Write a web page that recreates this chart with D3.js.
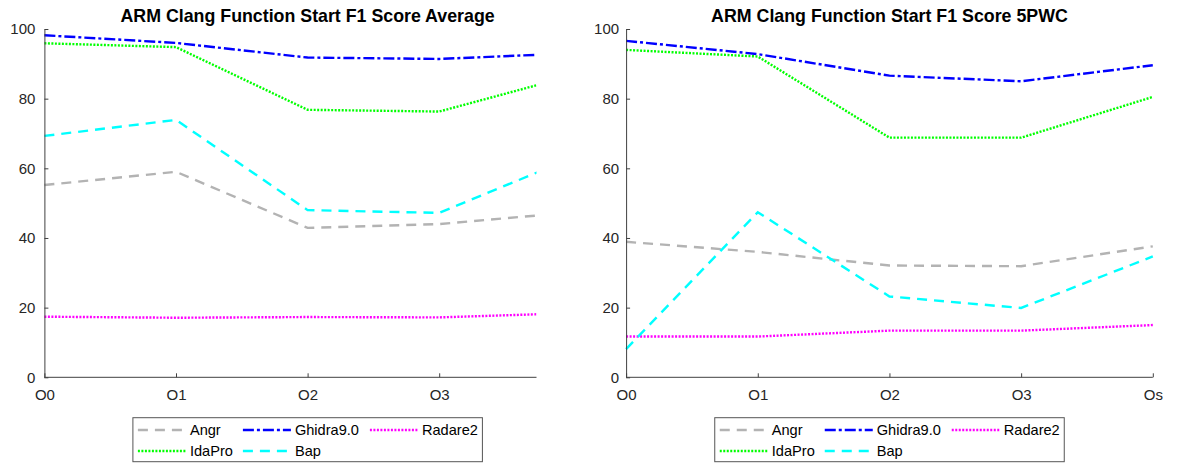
<!DOCTYPE html>
<html>
<head>
<meta charset="utf-8">
<script src="https://cdn.jsdelivr.net/npm/d3@7"></script>
<style>
body { margin: 0; background: #fff; }
svg { display: block; font-family: 'Liberation Sans', Arial, sans-serif; }
</style>
</head>
<body>
<svg width="1180" height="463"></svg>
<script>
// optimalisatie niveaus op de x-as
const levels = ['O0', 'O1', 'O2', 'O3', 'Os']
const yTicks = [0, 20, 40, 60, 80, 100]
const tools = ['Angr', 'Ghidra9.0', 'Radare2', 'IdaPro', 'Bap']

// F1 score average (Os valt buiten het linker plot, is geschat)
const avgAngr    = [55.2, 59.0, 42.9, 44.0, 47.3]
const avgGhidra  = [98.2, 96.0, 91.8, 91.4, 93.0]
const avgRadare2 = [17.4, 17.1, 17.3, 17.2, 18.4]
const avgIdaPro  = [95.9, 94.8, 76.8, 76.3, 86.5]
const avgBap     = [69.3, 73.9, 48.0, 47.2, 62.8]

// F1 score 5PWC
const pwcAngr    = [38.9, 36.0, 32.1, 31.9, 37.6]
const pwcGhidra  = [96.6, 92.8, 86.6, 85.0, 89.6]
const pwcRadare2 = [11.7, 11.7, 13.4, 13.4, 15.0]
const pwcIdaPro  = [94.0, 92.1, 68.8, 68.8, 80.5]
const pwcBap     = [8.1, 47.4, 23.2, 19.9, 34.7]

// stijl per tool
const styles = {
    'Angr':      {color: '#b3b3b3', dash: '10,7'},
    'Ghidra9.0': {color: '#0000ff', dash: '11,3,3,3'},
    'Radare2':   {color: '#ff00ff', dash: '2,1.5'},
    'IdaPro':    {color: '#00ff00', dash: '2,1.5'},
    'Bap':       {color: '#00ffff', dash: '10,7'}
}

const svg = d3.select('svg')

const panels = [
    {
        title: 'ARM Clang Function Start F1 Score Average',
        series: [avgAngr, avgGhidra, avgRadare2, avgIdaPro, avgBap],
        left: 44.4, right: 570.8, clipTo: 536.5
    },
    {
        title: 'ARM Clang Function Start F1 Score 5PWC',
        series: [pwcAngr, pwcGhidra, pwcRadare2, pwcIdaPro, pwcBap],
        left: 626.1, right: 1152.8, clipTo: null
    }
]

const yTop = 29
const yBottom = 377.3
const axisColor = '#404040'
const textColor = '#262626'

const render = (panel, i) => {
    const xscale = d3.scalePoint()
        .domain(levels)
        .range([panel.left, panel.right])

    const yscale = d3.scaleLinear()
        .domain([0, 100])
        .range([yBottom, yTop])

    const clipRight = panel.clipTo || panel.right + 1
    const g = svg.append('g')

    // clip voor het afgesneden linker plot
    const clipId = 'clip' + i
    svg.append('clipPath').attr('id', clipId)
        .append('rect')
        .attr('x', panel.left - 3).attr('y', 0)
        .attr('width', clipRight - panel.left + 3).attr('height', 463)

    // lijnen
    const line = d3.line()
        .x((d, j) => xscale(levels[j]))
        .y(d => yscale(d))

    g.append('g').attr('clip-path', `url(#${clipId})`)
        .selectAll('path').data(panel.series)
        .enter()
        .append('path')
            .attr('d', line)
            .attr('fill', 'none')
            .attr('stroke', (d, j) => styles[tools[j]].color)
            .attr('stroke-dasharray', (d, j) => styles[tools[j]].dash)
            .attr('stroke-width', 2.4)

    // x-as, ticks naar binnen
    const xAxis = g.append('g')
        .attr('transform', `translate(0, ${yBottom})`)
        .call(d3.axisBottom(xscale)
            .tickValues(levels.filter(l => xscale(l) <= clipRight))
            .tickSize(-4).tickSizeOuter(0).tickPadding(12.5))
    xAxis.select('.domain').remove()
    xAxis.append('line')
        .attr('x1', panel.left).attr('x2', Math.min(clipRight, panel.right))
        .attr('stroke', axisColor)

    // y-as
    const yAxis = g.append('g')
        .attr('transform', `translate(${panel.left}, 0)`)
        .call(d3.axisLeft(yscale).tickValues(yTicks)
            .tickSize(-4).tickSizeOuter(0).tickPadding(i === 0 ? 9 : 7))
    yAxis.select('.domain').attr('stroke', axisColor)

    g.selectAll('.tick line').attr('stroke', axisColor)
    g.selectAll('.tick text')
        .attr('fill', textColor)
        .style('font-size', '15px')
        .style('font-family', "'Liberation Sans', Arial, sans-serif")

    // titel
    const center = (panel.left + panel.right) / 2
    g.append('text')
        .attr('x', center).attr('y', 22)
        .attr('text-anchor', 'middle')
        .style('font-size', '17.8px').style('font-weight', 'bold')
        .text(panel.title)

    // legenda, 3 kolommen
    const legend = g.append('g')
        .attr('transform', `translate(${center - 174.7}, 417.7)`)
    legend.append('rect')
        .attr('width', 349.5).attr('height', 44)
        .attr('fill', '#fff').attr('stroke', '#555')

    const colX = [5, 110, 237]
    const rowY = [12.3, 33.3]
    const items = legend.selectAll('g.item').data(tools)
        .enter()
        .append('g')
            .attr('class', 'item')
            .attr('transform', (d, j) => `translate(${colX[j % 3]}, ${rowY[Math.floor(j / 3)]})`)
    items.append('line')
        .attr('x1', 0).attr('x2', 48)
        .attr('stroke', d => styles[d].color)
        .attr('stroke-dasharray', d => styles[d].dash)
        .attr('stroke-width', 2.4)
    items.append('text')
        .attr('x', 52).attr('dy', '0.35em')
        .attr('fill', '#000')
        .style('font-size', '14.6px')
        .text(d => d)
}

panels.forEach(render)
</script>
</body>
</html>
